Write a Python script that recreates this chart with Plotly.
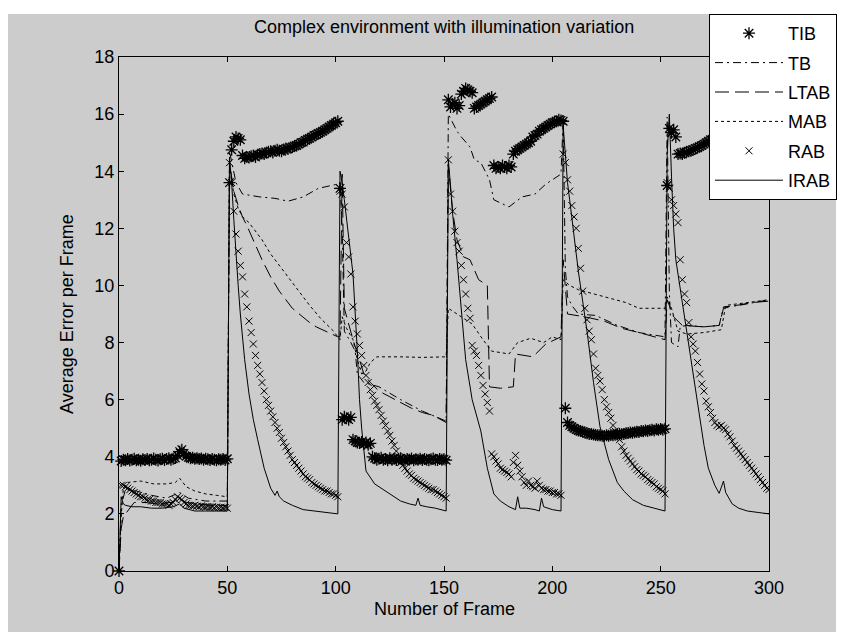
import plotly.graph_objects as go

# ---------------------------------------------------------------- data
# TIB: one value per frame, frames 0..300
tib = [
    0,
    3.85, 3.9, 3.88, 3.92, 3.87, 3.9, 3.93, 3.88, 3.9, 3.86, 3.91, 3.89, 3.92,
    3.88, 3.9, 3.94, 3.9, 3.87, 3.91, 3.93, 3.89, 3.92, 3.95, 3.9, 3.93, 3.96,
    4.05, 4.18, 4.25, 4.12,
    4.02, 3.98, 3.95, 3.97, 3.93, 3.95, 3.92, 3.94, 3.9, 3.93, 3.91, 3.89, 3.92,
    3.9, 3.88, 3.91, 3.9, 3.92, 3.89, 3.93,
    13.6, 14.75, 15.05, 15.2, 15.15, 15.1,
    14.55, 14.45, 14.5, 14.48, 14.52, 14.55, 14.5, 14.58, 14.6, 14.62, 14.6,
    14.65, 14.68, 14.7, 14.66, 14.72, 14.75, 14.72, 14.7, 14.76, 14.8, 14.78,
    14.82, 14.85, 14.88, 14.9, 14.95, 15.0, 15.02, 15.08, 15.12, 15.15, 15.2,
    15.25, 15.28, 15.32, 15.36, 15.4, 15.45, 15.5, 15.55, 15.6, 15.65, 15.7, 15.75,
    13.4,
    5.3, 5.4, 5.35, 5.3, 5.38,
    4.6, 4.55, 4.5, 4.48, 4.52, 4.45, 4.5, 4.42, 4.47,
    4.0, 3.95, 3.9, 3.93, 3.97, 3.9, 3.92, 3.88, 3.95, 3.9, 3.93, 3.89, 3.91,
    3.95, 3.9, 3.87, 3.92, 3.9, 3.94, 3.88, 3.91, 3.9, 3.93, 3.89, 3.92, 3.9,
    3.88, 3.91, 3.94, 3.9, 3.89, 3.92, 3.9, 3.91, 3.88,
    16.5, 16.25, 16.35, 16.4, 16.2, 16.3,
    16.7, 16.8, 16.9, 16.85, 16.8, 16.75,
    16.2, 16.25, 16.3, 16.35, 16.4, 16.45, 16.5, 16.55, 16.6,
    14.2, 14.1, 14.15, 14.1, 14.2, 14.15, 14.1, 14.2, 14.15,
    14.6, 14.7, 14.75, 14.8, 14.85, 14.9, 14.95, 15.0, 15.05,
    15.2, 15.25, 15.3, 15.4, 15.45, 15.5, 15.55, 15.6, 15.65, 15.7, 15.72, 15.75,
    15.8, 15.78, 15.75,
    5.7,
    5.2, 5.1, 5.05, 5.0, 4.95, 4.92, 4.9, 4.88, 4.85, 4.82, 4.8, 4.8, 4.78,
    4.76, 4.75, 4.75, 4.74, 4.73, 4.75, 4.74, 4.76, 4.75, 4.77, 4.78, 4.8, 4.79,
    4.8, 4.82, 4.83, 4.85, 4.84, 4.86, 4.88, 4.87, 4.9, 4.89, 4.92, 4.9, 4.93,
    4.95, 4.92, 4.96, 4.95, 4.97, 4.95, 4.98,
    13.5,
    15.5, 15.35, 15.45, 15.2,
    14.6, 14.62, 14.6, 14.65, 14.68, 14.7, 14.72, 14.75, 14.8, 14.82, 14.86,
    14.9, 14.95, 15.0, 15.05, 15.1, 15.12, 15.18, 15.22, 15.26, 15.3, 15.34,
    15.38, 15.42, 15.46, 15.5, 15.54, 15.58, 15.6, 15.64, 15.68, 15.7, 15.74,
    15.77, 15.8, 15.83, 15.86, 15.88, 15.9, 15.92, 15.95, 15.97, 16.0,
]
tib_frames = list(range(len(tib)))

# RAB: one value per frame, frames 1..300
rab = [
    3.0, 3.0, 2.95, 2.9, 2.85, 2.8, 2.75, 2.7, 2.65, 2.6,
    2.6, 2.55, 2.5, 2.5, 2.45, 2.45, 2.4, 2.4, 2.4, 2.35,
    2.35, 2.35, 2.3, 2.35, 2.4, 2.5, 2.6, 2.55, 2.5, 2.4,
    2.35, 2.3, 2.3, 2.28, 2.3, 2.27, 2.25, 2.28, 2.25, 2.24,
    2.26, 2.23, 2.25, 2.22, 2.24, 2.22, 2.23, 2.21, 2.22, 2.2,
    14.3, 13.6, 12.6, 11.8, 11.2, 10.7, 10.3, 9.7, 9.25, 8.75,
    8.35, 7.95, 7.55, 7.2, 6.9, 6.6, 6.3, 6.0, 5.8, 5.6,
    5.4, 5.2, 5.0, 4.85, 4.65, 4.5, 4.35, 4.2, 4.05, 3.9,
    3.8, 3.7, 3.6, 3.5, 3.4, 3.3, 3.25, 3.2, 3.1, 3.05,
    3.0, 2.95, 2.9, 2.85, 2.8, 2.8, 2.75, 2.7, 2.7, 2.65,
    2.6,
    13.3, 13.2, 12.75, 11.5, 11.0, 10.4, 9.25, 8.75, 8.3, 7.9,
    7.55, 7.2, 6.85, 6.6, 6.35, 6.15, 5.95, 5.8, 5.65, 5.45,
    5.25, 5.1, 4.9, 4.75, 4.55, 4.4, 4.2, 4.0, 3.8, 3.7,
    3.6, 3.5, 3.4, 3.35, 3.25, 3.2, 3.15, 3.1, 3.05, 3.0,
    2.95, 2.9, 2.85, 2.85, 2.8, 2.75, 2.7, 2.65, 2.6, 2.55,
    14.4, 13.2, 12.6, 11.9, 11.5, 11.2, 10.7, 10.2, 9.7, 9.2,
    8.85, 7.9, 7.7, 7.55, 7.2, 6.85, 6.5, 6.2, 5.9, 5.6,
    4.1, 4.0, 3.85, 3.75, 3.6, 3.55, 3.5, 3.45, 3.4, 3.3,
    3.8, 4.05, 3.7, 3.5, 3.3, 3.1, 3.0, 3.15, 3.0, 2.95,
    2.9, 3.15, 3.0, 2.9, 2.85, 2.85, 2.8, 2.8, 2.75, 2.75,
    2.7, 2.7, 2.65,
    14.6, 14.3, 13.7, 13.3, 12.8, 12.4, 12.0, 11.3, 10.6, 9.8,
    9.2, 8.8, 8.4, 8.1, 7.6, 7.1, 6.85, 6.65, 6.35, 6.0,
    5.75, 5.55, 5.35, 5.1, 4.9, 4.75, 4.6, 4.35, 4.2, 4.05,
    3.95, 3.85, 3.75, 3.65, 3.55, 3.5, 3.4, 3.35, 3.3, 3.2,
    3.15, 3.1, 3.05, 2.95, 2.9, 2.85, 2.8, 2.7,
    13.6, 13.4, 13.0, 12.8, 12.5, 12.2, 10.9, 10.2, 9.7, 9.4,
    8.7, 8.2, 7.95, 7.7, 7.3, 6.9, 6.55, 6.3, 5.95, 5.75,
    5.55, 5.35, 5.2, 5.1, 5.05, 5.1, 5.0, 4.95, 4.8, 4.7,
    4.55, 4.4, 4.3, 4.2, 4.1, 4.0, 3.9, 3.8, 3.7, 3.6,
    3.5, 3.4, 3.3, 3.2, 3.1, 3.0, 2.9, 2.85,
]
rab_frames = list(range(1, len(rab) + 1))

# TB (dash-dot line)
tb_frames = [0, 1, 3, 8, 15, 22, 28, 32, 40, 50,
             51, 52, 54, 57, 65, 72, 78, 85, 92, 101,
             102, 103, 104, 107, 109, 110, 113, 120, 130, 140, 151,
             152, 156, 158, 162, 164, 167, 171, 173, 180, 186, 192, 197, 204,
             205, 206, 207, 209, 212, 220, 230, 240, 252,
             253, 254, 255, 258, 259, 262, 270, 277, 279, 286, 293, 300]
tb = [0, 2.3, 2.85, 2.8, 2.65, 2.55, 2.75, 2.55, 2.45, 2.45,
      14.7, 14.3, 13.6, 13.2, 13.1, 13.05, 12.95, 13.1, 13.4, 13.55,
      13.6, 12.0, 8.4, 8.0, 7.7, 6.9, 6.6, 6.45, 6.0, 5.6, 5.25,
      16.0, 15.4, 15.2, 14.85, 14.4, 14.3, 13.7, 13.0, 12.75, 13.1, 13.2, 13.55, 13.9,
      15.8, 10.6, 9.6, 9.3, 9.0, 8.95, 8.6, 8.35, 8.2,
      15.9, 9.8, 8.0, 7.85, 8.55, 8.6, 8.55, 8.6, 9.25, 9.3, 9.4, 9.5]

# LTAB (long-dash line)
ltab_frames = [0, 1, 2, 4, 7, 12, 18, 24, 28, 31, 36, 42, 50,
               51, 52, 53, 55, 57, 59, 62, 66, 70, 74, 77, 80, 84, 88, 91, 95, 101,
               102, 103, 104, 106, 108, 111, 113, 116, 120, 125, 130, 135, 140, 145, 151,
               152, 154, 156, 159, 162, 166, 170, 171, 176, 182, 183, 191, 197, 204,
               205, 207, 215, 224, 232, 240, 250, 252,
               253, 256, 260, 270, 277, 279, 285, 292, 300]
ltab = [0, 1.5, 1.9, 2.1, 2.4, 2.4, 2.35, 2.4, 2.55, 2.4, 2.35, 2.3, 2.3,
        14.3, 13.8, 13.3, 12.8, 12.4, 12.1, 11.6, 10.9, 10.3, 9.8, 9.5, 9.2, 8.95, 8.7, 8.55, 8.4, 8.2,
        8.2, 13.9, 9.2, 8.6, 8.1, 7.4, 6.9, 6.6, 6.3, 6.1, 5.9, 5.7, 5.55, 5.45, 5.2,
        14.2, 12.6, 11.6, 11.0, 10.9, 10.2, 10.0, 6.45, 6.4, 6.45, 7.6, 7.5, 7.95, 8.2,
        10.9, 9.0, 8.9, 8.75, 8.5, 8.35, 8.15, 8.1,
        9.5, 8.9, 8.6, 8.55, 8.6, 9.2, 9.3, 9.4, 9.45]

# MAB (short-dash line)
mab_frames = [0, 1, 2, 4, 10, 16, 22, 26, 28, 31, 35, 40, 45, 50,
              51, 52, 53, 55, 57, 60, 63, 66, 70, 74, 79, 84, 88, 93, 99, 101,
              102, 103, 105, 108, 110, 112, 114, 116, 119, 130, 140, 151,
              152, 158, 163, 168, 172, 180, 184, 190, 196, 200, 204,
              205, 208, 212, 222, 234, 240, 252,
              253, 255, 258, 262, 270, 278, 280, 290, 300]
mab = [0, 1.9, 2.9, 3.1, 3.15, 3.05, 3.05, 3.1, 3.25, 2.95, 2.8, 2.7, 2.65, 2.6,
       14.2, 13.6, 13.2, 12.7, 12.4, 12.2, 11.9, 11.6, 11.1, 10.7, 10.2, 9.7, 9.3, 8.85, 8.4, 8.2,
       8.1, 8.9, 8.5, 8.1, 7.4, 6.9, 7.0, 7.3, 7.5, 7.5, 7.48, 7.5,
       9.2, 8.9, 8.65, 8.1, 7.7, 7.6, 8.0, 8.15, 8.0, 8.2, 8.1,
       10.2, 10.0, 9.85, 9.65, 9.4, 9.2, 9.2,
       9.6, 9.2, 8.4, 8.3, 8.35, 8.45, 9.3, 9.4, 9.5]

# IRAB (solid line)
irab_frames = [0, 1, 2, 3, 6, 10, 15, 20, 25, 28, 30, 35, 40, 45, 50,
               51, 52, 53, 54, 55, 56, 57, 58, 60, 62, 64, 67, 70, 72, 73, 74, 76, 80, 85, 90, 95, 101,
               102, 103, 104, 106, 108, 110, 111, 112, 114, 118, 122, 125, 130, 134, 137, 138, 139, 142, 146, 151,
               152, 153, 154, 156, 158, 160, 163, 167, 170, 173, 176, 180, 183, 184, 185, 188, 192, 194, 195, 196, 200, 204,
               205, 206, 207, 208, 210, 212, 216, 219, 222, 226, 230, 233, 237, 242, 247, 252,
               253, 254, 255, 256, 257, 260, 262, 265, 267, 270, 272, 275, 277, 279, 280, 283, 286, 290, 295, 300]
irab = [0, 2.6, 2.35, 2.3, 2.25, 2.25, 2.2, 2.2, 2.25, 2.35, 2.2, 2.1, 2.1, 2.1, 2.1,
        14.5, 13.6, 12.3, 11.0, 10.0, 9.0, 8.2, 7.4, 6.2, 5.3, 4.6, 3.6, 2.9, 2.65, 2.8, 2.6, 2.45, 2.3, 2.15, 2.1, 2.05, 2.0,
        14.0, 13.6, 13.0, 11.8, 10.4, 7.7, 6.0, 5.0, 3.5, 3.05, 2.85, 2.7, 2.45, 2.35, 2.3, 2.55, 2.3, 2.25, 2.2, 2.1,
        14.4, 13.5, 12.5, 10.9, 9.0, 7.4, 6.0, 4.9, 3.6, 2.7, 2.45, 2.25, 2.15, 2.6, 2.2, 2.2, 2.15, 2.1, 2.55, 2.25, 2.15, 2.1,
        15.6, 14.5, 13.6, 13.0, 11.8, 10.5, 8.4, 6.6, 5.05, 3.9, 3.1, 2.8, 2.5, 2.3, 2.2, 2.1,
        14.6, 16.0, 13.8, 12.0, 10.9, 9.4, 8.55, 6.9, 6.0, 4.4, 3.6, 3.0, 2.72, 3.15, 2.75, 2.35, 2.2, 2.1, 2.05, 2.0]

x_ticks = [0, 50, 100, 150, 200, 250, 300]
y_ticks = [0, 2, 4, 6, 8, 10, 12, 14, 16, 18]

# ---------------------------------------------------------------- figure
W, H = 841, 635
L, R, T, B = 119, 72, 57, 64
PW, PH = W - L - R, H - T - B
FONT = "Liberation Sans, Arial, Helvetica, sans-serif"
BLACK = "#000000"


def px_x(px):
    return (px - L) / PW


def px_y(py):
    return (H - B - py) / PH


fig = go.Figure()

fig.add_trace(go.Scatter(
    x=tib_frames, y=tib, mode="markers", name="TIB", legendgroup="a",
    marker=dict(symbol="asterisk-open", size=10, color=BLACK,
                line=dict(color=BLACK, width=1.3)),
    cliponaxis=False,
))
fig.add_trace(go.Scatter(
    x=tb_frames, y=tb, mode="lines", name="TB", legendgroup="b",
    line=dict(color=BLACK, width=1, dash="8px,4px,2px,4px"),
))
fig.add_trace(go.Scatter(
    x=ltab_frames, y=ltab, mode="lines", name="LTAB", legendgroup="c",
    line=dict(color=BLACK, width=1, dash="14px,6px"),
))
fig.add_trace(go.Scatter(
    x=mab_frames, y=mab, mode="lines", name="MAB", legendgroup="d",
    line=dict(color=BLACK, width=1, dash="3px,3px"),
))
fig.add_trace(go.Scatter(
    x=rab_frames, y=rab, mode="markers", name="RAB", legendgroup="e",
    marker=dict(symbol="x-thin-open", size=7, color=BLACK,
                line=dict(color=BLACK, width=1)),
))
fig.add_trace(go.Scatter(
    x=irab_frames, y=irab, mode="lines", name="IRAB", legendgroup="f",
    line=dict(color=BLACK, width=1),
))

axis_common = dict(
    showline=True, linecolor=BLACK, linewidth=1, mirror="ticks",
    ticks="inside", ticklen=5, tickcolor=BLACK, tickwidth=1,
    showgrid=False, zeroline=False,
    tickfont=dict(family=FONT, size=18, color=BLACK),
)

fig.update_layout(
    width=W, height=H,
    margin=dict(l=L, r=R, t=T, b=B, pad=0, autoexpand=False),
    paper_bgcolor="#ffffff",
    plot_bgcolor="#ffffff",
    font=dict(family=FONT, size=18, color=BLACK),
    xaxis=dict(range=[0, 300], tickvals=x_ticks, **axis_common),
    yaxis=dict(range=[0, 18], tickvals=y_ticks, **axis_common),
    showlegend=True,
    legend=dict(
        x=px_x(709), y=px_y(14), xanchor="left", yanchor="top",
        bgcolor="#ffffff", bordercolor=BLACK, borderwidth=1,
        font=dict(family=FONT, size=18, color=BLACK),
        tracegroupgap=3, itemwidth=68,
    ),
    shapes=[dict(
        type="rect", xref="paper", yref="paper", layer="below",
        x0=px_x(8), x1=px_x(836), y0=px_y(632), y1=px_y(14),
        fillcolor="#cccccc", line=dict(width=0),
    )],
    annotations=[
        dict(text="Complex environment with illumination variation",
             xref="paper", yref="paper", x=0.5, y=px_y(27),
             xanchor="center", yanchor="middle", showarrow=False,
             font=dict(family=FONT, size=18, color=BLACK)),
        dict(text="Number of Frame",
             xref="paper", yref="paper", x=0.5, y=px_y(609),
             xanchor="center", yanchor="middle", showarrow=False,
             font=dict(family=FONT, size=18, color=BLACK)),
        dict(text="Average Error per Frame",
             xref="paper", yref="paper", x=px_x(67), y=0.5,
             xanchor="center", yanchor="middle", showarrow=False, textangle=-90,
             font=dict(family=FONT, size=18, color=BLACK)),
    ],
)

fig.write_html("out.html")
